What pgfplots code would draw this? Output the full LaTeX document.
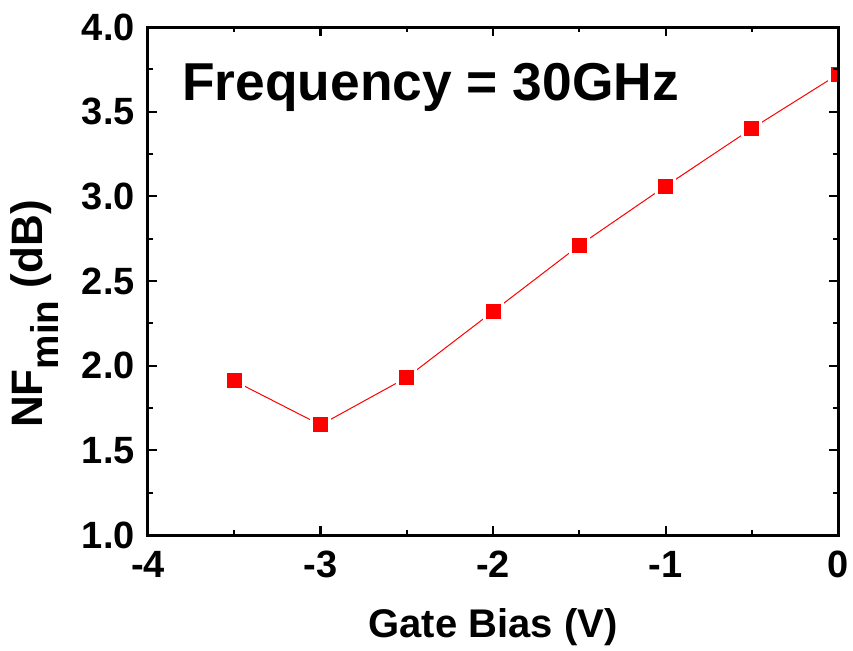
\documentclass[border=0pt]{standalone}
\usepackage{fontspec}
\setmainfont{Liberation Sans}
\usepackage{pgfplots}
\pgfplotsset{compat=1.18}
\begin{document}
\begin{tikzpicture}
\begin{axis}[
  scale only axis, width=517.5pt, height=381pt,
  xmin=-4, xmax=0, ymin=1, ymax=4,
  xtick={-4,-3,-2,-1,0}, xticklabels={-4,-3,-2,-1,0},
  ytick={1,1.5,2,2.5,3,3.5,4}, yticklabels={1.0,1.5,2.0,2.5,3.0,3.5,4.0},
  minor xtick={-3.5,-2.5,-1.5,-0.5},
  minor ytick={1.25,1.75,2.25,2.75,3.25,3.75},
  tick align=inside, major tick length=6.5pt, minor tick length=3.5pt,
  axis line style={line width=2.25pt},
  every tick/.append style={black, line width=1.5pt},
  tick label style={font=\fontsize{28.5}{30}\selectfont\bfseries},
  xticklabel style={anchor=base, inner sep=0pt, yshift=-31.5pt},
  yticklabel style={anchor=east, inner sep=0pt, xshift=-9.75pt},
  xlabel={Gate Bias (V)},
  xlabel style={at={(rel axis cs:0.5,0)}, anchor=base, inner sep=0pt, yshift=-76.5pt, font=\fontsize{30}{32}\selectfont\bfseries},
  ylabel={NF\raisebox{-12pt}{\fontsize{29}{30}\selectfont min} (dB)},
  ylabel style={at={([xshift=-78.75pt]rel axis cs:0,0.435)}, anchor=base, inner sep=0pt, rotate=0, font=\fontsize{33}{34}\selectfont\bfseries},
  clip marker paths=true,
  axis on top,
]
\addplot[red, line width=0.75pt, mark=square*,
  mark options={solid, fill=red, draw=white, line width=2.25pt}, mark size=6.75pt]
  coordinates {(-3.5,1.91) (-3,1.65) (-2.5,1.93) (-2,2.32) (-1.5,2.71) (-1,3.06) (-0.5,3.40) (0,3.72)};
\node[anchor=base west, inner sep=0pt, font=\fontsize{40}{42}\selectfont\bfseries]
  at ([xshift=25.5pt, yshift=-54.75pt]rel axis cs:0,1) {Frequency = 30GHz};
\end{axis}
\path (current axis.south west) ++(-111pt,-86.25pt) coordinate (bbA);
\path (current axis.north east) ++(11.25pt,20.25pt) coordinate (bbB);
\pgfresetboundingbox
\path[use as bounding box] (bbA) rectangle (bbB);
\end{tikzpicture}
\end{document}
